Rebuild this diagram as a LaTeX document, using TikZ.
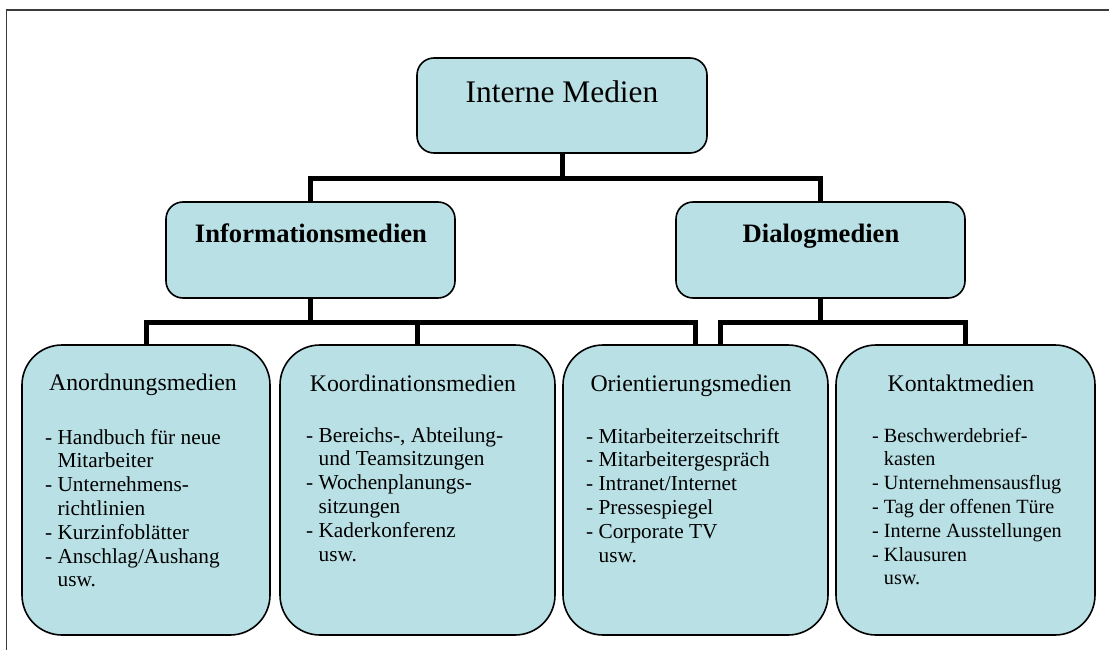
\documentclass[tikz,border=0pt]{standalone}
\usepackage{fontspec}
\setmainfont{Liberation Serif}
\definecolor{boxfill}{RGB}{185,224,228}
\definecolor{framegray}{RGB}{60,60,60}
\newcommand{\contline}{\hphantom{- }}
\begin{document}
\begin{tikzpicture}[x=1pt,y=-1pt,
  basebox/.style={draw=black, line width=1.6pt, fill=boxfill, inner sep=0pt},
  headbox/.style={basebox, rounded corners=17pt},
  mediabox/.style={basebox, rounded corners=40pt, minimum height=290pt},
  conn/.style={draw=black, line width=5pt},
  roottext/.style={inner sep=0pt, anchor=base, font=\fontsize{31.4}{36}\selectfont},
  grouptext/.style={inner sep=0pt, anchor=base, font=\bfseries\fontsize{26.6}{30}\selectfont},
  titletext/.style={inner sep=0pt, anchor=base, font=\fontsize{23.8}{28}\selectfont},
  listtext/.style={inner sep=0pt, anchor=base west, font=\fontsize{21.3}{23.8}\selectfont},
]
\useasboundingbox (0,0) rectangle (1109,650);

% page frame
\draw[framegray, line width=1.3pt] (6.5,650) -- (6.5,10) -- (1109,10);

% boxes
\node[headbox, minimum width=290pt, minimum height=95pt] (root) at (562,105.5) {};
\node[headbox, minimum width=289pt, minimum height=96pt] (info) at (310.5,250) {};
\node[headbox, minimum width=289pt, minimum height=96pt] (dialog) at (820.5,250) {};
\node[mediabox, minimum width=248pt] (anord) at (146,490) {};
\node[mediabox, minimum width=275pt] (koord) at (417.5,490) {};
\node[mediabox, minimum width=265pt] (orient) at (695.5,490) {};
\node[mediabox, minimum width=259pt] (kontakt) at (965.5,490) {};

% connectors
\draw[conn] (root.south) -- ++(0,25) -| (info.north);
\draw[conn] (root.south) -- ++(0,25) -| (dialog.north);
\draw[conn] (info.south) -- ++(0,24) -| (anord.north);
\draw[conn] (info.south) -- ++(0,24) -| (koord.north);
\draw[conn] (info.south) -- ++(0,24) -| (orient.north);
\draw[conn] (dialog.south) -- ++(0,24) -| ([xshift=24.5pt]orient.north);
\draw[conn] (dialog.south) -- ++(0,24) -| (kontakt.north);

% headings
\node[roottext] (roott) at (562,103) {Interne Medien};
\node[grouptext] (infot) at (311,242) {Informationsmedien};
\node[grouptext] (dialogt) at (821,242) {Dialogmedien};

\node[titletext] (anordt) at (143,390) {Anordnungsmedien};
\node[titletext] (koordt) at (413,391) {Koordinationsmedien};
\node[titletext] (orientt) at (691,391) {Orientierungsmedien};
\node[titletext] (kontaktt) at (961,391) {Kontaktmedien};

% lists
\node[listtext] (anordl) at (45,444) {\begin{tabular}[t]{@{}l@{}}
- Handbuch für neue\\
\contline Mitarbeiter\\
- Unternehmens-\\
\contline richtlinien\\
- Kurzinfoblätter\\
- Anschlag/Aushang\\
\contline usw.
\end{tabular}};
\node[listtext] (koordl) at (306,442) {\begin{tabular}[t]{@{}l@{}}
- Bereichs-, Abteilung-\\
\contline und Teamsitzungen\\
- Wochenplanungs-\\
\contline sitzungen\\
- Kaderkonferenz\\
\contline usw.
\end{tabular}};
\node[listtext] (orientl) at (586,443) {\begin{tabular}[t]{@{}l@{}}
- Mitarbeiterzeitschrift\\
- Mitarbeitergespräch\\
- Intranet/Internet\\
- Pressespiegel\\
- Corporate TV\\
\contline usw.
\end{tabular}};
\node[listtext, font=\fontsize{20.2}{23.8}\selectfont] (kontaktl) at (872,442) {\begin{tabular}[t]{@{}l@{}}
- Beschwerdebrief-\\
\contline kasten\\
- Unternehmensausflug\\
- Tag der offenen Türe\\
- Interne Ausstellungen\\
- Klausuren\\
\contline usw.
\end{tabular}};
\end{tikzpicture}
\end{document}
